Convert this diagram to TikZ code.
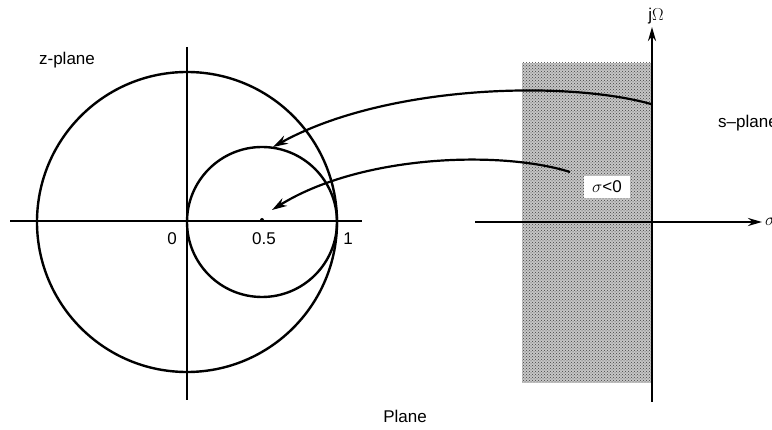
\documentclass[tikz,border=0pt]{standalone}
\usepackage{fontspec}
\setmainfont{Liberation Sans}
\usetikzlibrary{arrows.meta,patterns}
\begin{document}
\begin{tikzpicture}[x=1pt,y=-1pt,
  axis/.style={line width=2.2pt},
  curve/.style={line width=2.4pt},
  maparrow/.style={line width=2.2pt,-{Stealth[length=15pt,width=9pt]}},
  axarrow/.style={line width=2.2pt,-{Stealth[length=14pt,width=8pt]}},
  lbl/.style={font=\fontsize{17}{20}\selectfont,inner sep=1pt}]
\useasboundingbox (0,0) rectangle (772,430);
% shaded strip
\fill[gray!45] (522,63) rectangle (652,383);
\fill[pattern=crosshatch dots,pattern color=gray!50!black] (522,63) rectangle (652,383);
% z-plane
\draw[axis] (10,221) -- (362,221);
\draw[axis] (187,47) -- (187,400);
\draw[curve] (187,222) circle (150);
\draw[curve] (262,222) circle (75);
\fill (262,220) circle (2);
\node[lbl] (zp) at (67,60) {z-plane};
\node[lbl] (l0) at (172,239) {0};
\node[lbl] (l05) at (264,239) {0.5};
\node[lbl] (l1) at (348,239) {1};
% s-plane
\draw[axis] (475,222) -- (652,222);
\draw[axarrow] (652,222) -- (762,222);
\draw[axis] (652,222) -- (652,402);
\draw[axarrow] (652,222) -- (652,27);
\node[lbl] (jw) at (656,16) {j$\Omega$};
\node[lbl,anchor=west] (sig) at (764,222) {$\sigma$};
\node[lbl,anchor=west] (sp) at (717,123) {s–plane};
\node[lbl,fill=white,inner xsep=8pt,inner ysep=5pt] (neg) at (607,187) {$\sigma$<0};
\node[lbl] (pl) at (405,416) {Plane};
% mapping arrows
\coordinate (s1) at (651,104);
\coordinate (t1) at (273,147);
\coordinate (s2) at (570,172);
\coordinate (t2) at (272,210);
\draw[maparrow] (s1) .. controls (565,80) and (385,85) .. (t1);
\draw[maparrow] (s2) .. controls (500,150) and (360,155) .. (t2);
\end{tikzpicture}
\end{document}
